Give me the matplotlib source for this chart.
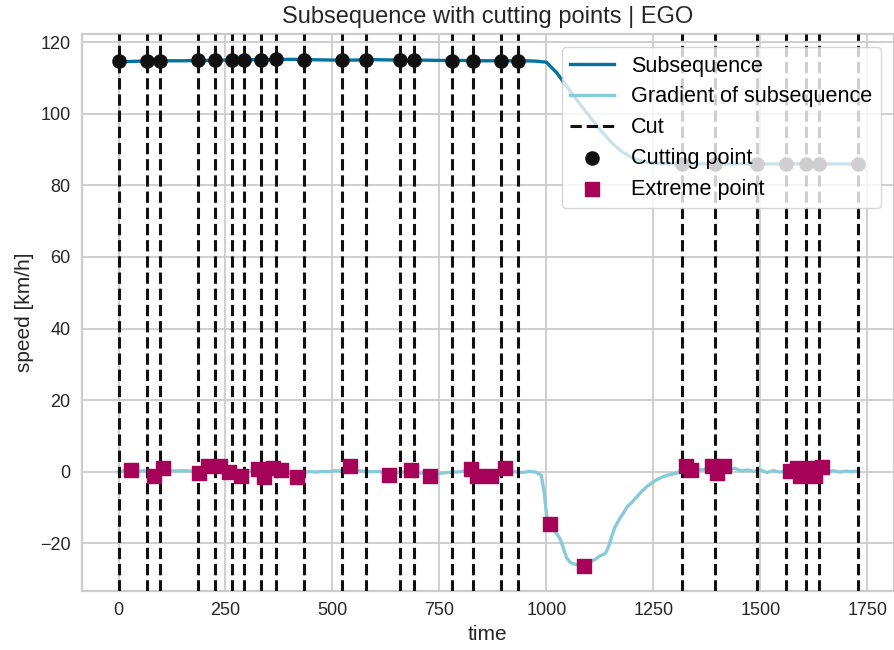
import matplotlib
matplotlib.use("Agg")
import matplotlib.pyplot as plt
import numpy as np

# Speed of the ego vehicle over the subsequence
speed_time = [0, 25, 50, 100, 150, 200, 250, 300, 350, 400, 450, 500, 550, 600,
              650, 700, 750, 800, 850, 900, 950, 975, 1000, 1025, 1050, 1075,
              1100, 1125, 1150, 1175, 1200, 1225, 1250, 1300, 1400, 1500, 1600,
              1700, 1726]
speed_kmh = [114.5, 114.6, 114.7, 114.8, 114.8, 114.9, 115.0, 115.1, 115.1, 115.2,
             115.1, 115.0, 115.0, 115.1, 115.0, 115.0, 114.9, 114.9, 114.8, 114.8,
             114.8, 114.7, 114.4, 111.3, 107.2, 103.2, 99.4, 95.6, 92.2, 89.5,
             87.7, 86.7, 86.2, 86.0, 86.0, 86.0, 86.0, 86.0, 86.0]

# Gradient of the speed signal
grad_time = [0, 10, 20, 30, 45, 60, 75, 84, 95, 103, 115, 130, 150, 170, 187, 198,
             208, 222, 236, 248, 259, 272, 286, 300, 312, 325, 341, 350, 360, 370,
             380, 395, 405, 418, 430, 445, 460, 475, 490, 505, 520, 530, 541, 555,
             570, 590, 610, 632, 650, 665, 683, 700, 715, 728, 745, 770, 800, 823,
             838, 852, 871, 885, 902, 915, 930, 945, 960, 975, 988, 995, 1001, 1009,
             1017, 1025, 1033, 1040, 1047, 1056, 1070, 1087, 1100, 1115, 1125, 1138,
             1145, 1150, 1160, 1169, 1180, 1189, 1200, 1208, 1220, 1235, 1245, 1258,
             1272, 1286, 1300, 1317, 1327, 1338, 1350, 1365, 1375, 1387, 1398, 1406,
             1414, 1425, 1440, 1455, 1470, 1485, 1500, 1515, 1530, 1545, 1560, 1569,
             1577, 1585, 1593, 1605, 1620, 1628, 1643, 1655, 1670, 1685, 1700, 1710,
             1726]
grad_value = [0.0, 0.2, 0.4, 0.5, 0.1, 0.3, -0.5, -1.1, 0.0, 1.0, 0.4, 0.2, 0.3, 0.2,
              -0.4, 0.5, 1.5, 0.3, 1.7, 0.5, -0.2, 0.6, -1.3, 0.0, 0.3, 0.75, -1.6,
              0.2, 1.0, 0.1, 0.56, -0.3, -0.6, -1.5, -0.5, 0.1, -0.1, 0.1, 0.0, 0.3,
              0.2, 0.6, 1.5, 0.4, 0.2, 0.0, 0.1, -1.0, -0.2, -0.1, 0.56, -0.3, -0.4,
              -1.3, -0.5, -0.2, 0.0, 0.75, -1.1, 0.3, -1.3, -0.2, 1.0, 0.2, -0.1,
              -0.2, 0.1, -0.1, -1.0, -6.0, -13.0, -14.6, -16.3, -17.5, -19.0, -21.5,
              -24.0, -25.4, -25.9, -26.2, -25.3, -24.4, -23.5, -22.8, -21.0, -19.0,
              -15.5, -13.5, -11.5, -9.7, -8.5, -7.4, -5.8, -4.1, -3.2, -2.2, -1.4,
              -0.84, -0.5, 0.3, 1.7, 0.4, 0.8, 0.5, 1.0, 1.7, -0.4, 0.6, 1.5, 0.3,
              1.0, 0.2, 0.5, 0.1, 0.5, -0.2, 0.3, -0.1, 0.2, 0.1, 0.9, 1.0, -1.3,
              0.3, 1.0, -1.1, 1.3, -0.2, 0.3, -0.1, 0.2, 0.0, 0.2]

# Cut positions and the speed at each cutting point
cut_time = [0, 67, 96, 185, 225, 265, 293, 334, 368, 434, 523, 579, 658, 691, 779,
            828, 894, 933, 1317, 1395, 1493, 1560, 1606, 1636, 1727]
cut_speed = [114.6, 114.8, 114.8, 114.9, 114.9, 115.1, 115.1, 115.1, 115.2, 115.0,
             114.9, 115.1, 115.0, 115.0, 114.8, 114.8, 114.7, 114.7, 86.0, 86.0,
             86.0, 86.0, 86.0, 86.0, 86.0]

# Local extremes of the gradient
extreme_time = [30, 84, 103, 187, 208, 236, 259, 286, 325, 341, 360, 380, 418, 541,
                632, 683, 728, 823, 838, 871, 902, 1009, 1087, 1327, 1338, 1387,
                1398, 1414, 1569, 1585, 1593, 1620, 1628, 1643]
extreme_value = [0.5, -1.1, 1.0, -0.4, 1.5, 1.7, -0.2, -1.3, 0.75, -1.6, 1.0, 0.56,
                 -1.5, 1.5, -1.0, 0.56, -1.3, 0.75, -1.1, -1.3, 1.0, -14.6, -26.2,
                 1.7, 0.4, 1.7, -0.4, 1.5, 0.1, 1.0, -1.3, 1.0, -1.1, 1.3]

BLUE = "#0272a2"
LIGHT_BLUE = "#88cada"
MAGENTA = "#a50258"
GRID = "#cccccc"
TEXT = "#262626"

plt.rcParams["font.family"] = ["Liberation Sans", "DejaVu Sans"]
plt.rcParams["axes.edgecolor"] = GRID
plt.rcParams["axes.linewidth"] = 1.6

fig = plt.figure(figsize=(8.95, 6.5), dpi=100)
ax = fig.add_axes([0.0913, 0.0908, 0.9075, 0.857])
ax.set_facecolor("white")
ax.grid(True, color=GRID, linewidth=1.3)
ax.set_axisbelow(True)

ax.plot(speed_time, speed_kmh, color=BLUE, lw=2.4, label="Subsequence", zorder=2)
ax.plot(grad_time, grad_value, color=LIGHT_BLUE, lw=2.4,
        label="Gradient of subsequence", zorder=2)
for i, t in enumerate(cut_time):
    ax.axvline(t, color="#111111", ls="--", lw=2.2,
               label="Cut" if i == 0 else None, zorder=3)
ax.scatter(cut_time, cut_speed, s=90, color="#111111", marker="o",
           label="Cutting point", zorder=4)
ax.scatter(extreme_time, extreme_value, s=115, color=MAGENTA, marker="s",
           label="Extreme point", zorder=4)

ax.set_xlim(-86, 1812)
ax.set_ylim(-33.3, 122.3)
ax.set_xticks([0, 250, 500, 750, 1000, 1250, 1500, 1750])
ax.set_yticks([-20, 0, 20, 40, 60, 80, 100, 120])
ax.tick_params(axis="both", length=0, labelsize=13, labelcolor=TEXT, pad=8)
for s in ax.spines.values():
    s.set_color(GRID)

ax.set_title("Subsequence with cutting points | EGO", fontsize=17, color=TEXT, pad=8)
ax.set_xlabel("time", fontsize=15, color=TEXT)
ax.set_ylabel("speed [km/h]", fontsize=15, color=TEXT)

leg = ax.legend(loc="upper right", fontsize=15.6, frameon=True, fancybox=True,
                framealpha=0.8, edgecolor=GRID, borderaxespad=0.6,
                labelspacing=0.45)
leg.get_frame().set_linewidth(1.0)

fig.savefig("out.png", dpi=100)
